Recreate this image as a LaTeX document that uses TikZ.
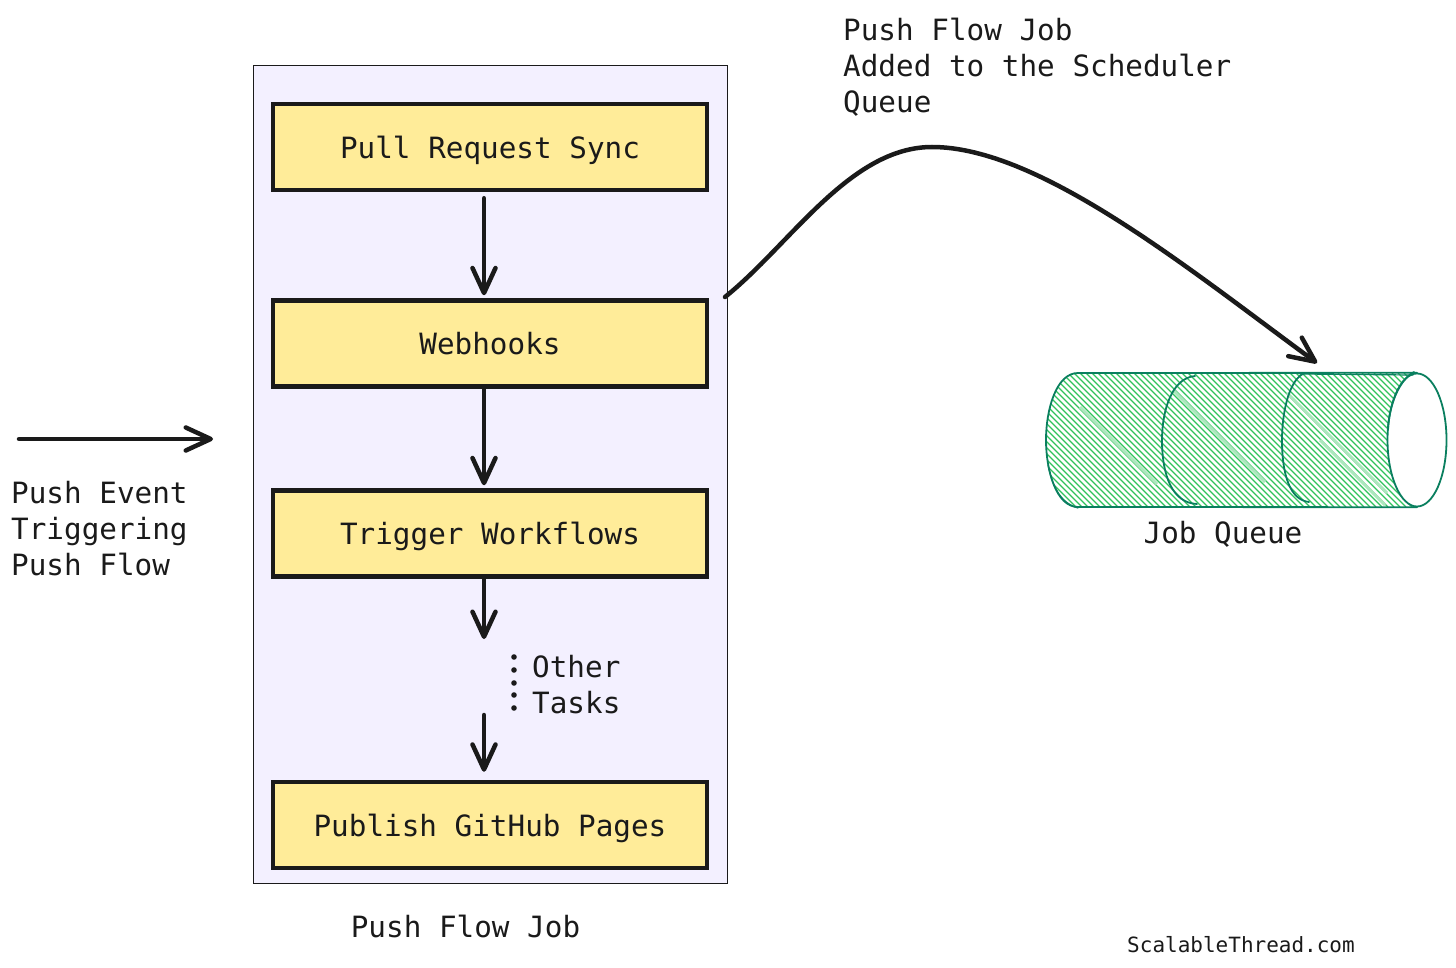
\documentclass[tikz,border=0pt]{standalone}
\usepackage{fontspec}
\setmainfont{DejaVu Sans Mono}
\usetikzlibrary{arrows.meta}
\definecolor{inkc}{HTML}{1A1A1A}
\definecolor{yellowfill}{HTML}{FFEC99}
\definecolor{lilac}{HTML}{F3F0FF}
\definecolor{greenline}{HTML}{0A7F5F}
\definecolor{greenhatch}{HTML}{2FC25B}
\tikzset{
  x=1pt,y=-1pt,
  taskbox/.style={draw=inkc,fill=yellowfill,line width=4.5pt,minimum width=434pt,minimum height=86pt,inner sep=0pt,text height=22.5pt,text depth=0pt,font=\fontsize{29.3}{36}\selectfont,text=inkc},
  txt/.style={inner sep=0pt,align=left,font=\fontsize{29.3}{36}\selectfont,text=inkc},
  conn/.style={draw=inkc,line width=4.5pt,line cap=round,-{Straight Barb[length=25pt,width=23pt,line width=4.5pt,round]}},
  cylline/.style={draw=greenline,line width=1.8pt,line cap=round},
  hatchline/.style={draw=greenhatch,line width=1.2pt},
  hatchband/.style={draw=greenhatch!40,line width=3pt},
}
\begin{document}
\begin{tikzpicture}
\useasboundingbox (0,0) rectangle (1456,968);
% container
\node[draw=inkc,fill=lilac,line width=1pt,minimum width=474pt,minimum height=817pt,inner sep=0pt] (outer) at (490,474.5) {};
% tasks
\node[taskbox] (pull) at (490,147) {Pull Request Sync};
\node[taskbox] (hook) at (490,343.5) {Webhooks};
\node[taskbox] (trig) at (490,533.5) {Trigger Workflows};
\node[taskbox] (pub) at (490,825) {Publish GitHub Pages};
% arrows
\draw[conn] ([xshift=-6pt,yshift=-6pt]pull.south) -- ([xshift=-6pt,yshift=3pt]hook.north);
\draw[conn] ([xshift=-6pt]hook.south) -- ([xshift=-6pt,yshift=3pt]trig.north);
\coordinate (gapa) at (484,639);
\coordinate (gapb) at (484,715);
\draw[conn] ([xshift=-6pt]trig.south) -- (gapa);
\draw[conn] (gapb) -- ([xshift=-6pt,yshift=8pt]pub.north);
% dots
\foreach \yy in {657,670,683,695,708} \fill[inkc] (514,\yy) circle (2.8pt);
\node[txt,anchor=west] (other) at (532,685) {Other\\Tasks};
% labels
\node[txt,anchor=center] (jobl) at (465.5,926) {Push Flow Job};
\node[txt,anchor=west] (sched) at (843,67) {Push Flow Job\\Added to the Scheduler\\Queue};
\node[txt,anchor=west] (event) at (11,529) {Push Event\\Triggering\\Push Flow};
\node[txt,anchor=center] (jobq) at (1223,534) {Job Queue};
\node[inner sep=0pt,font=\fontsize{21}{24}\selectfont,text=inkc] (mark) at (1241,945) {ScalableThread.com};
% incoming arrow
\coordinate (evs) at (19,439);
\coordinate (eve) at (213,439);
\draw[conn] (evs) -- (eve);
% cylinder
\begin{scope}
\clip (1078,373) -- (1417,373) -- (1417,507) -- (1078,507) .. controls (1056,507) and (1046,470) .. (1046,440) .. controls (1046,410) and (1056,373) .. (1078,373) -- cycle;
\foreach \xx in {900,906,...,1450} \draw[hatchline] (\xx,373) -- (\xx+134,507);
\draw[hatchband] (1080,407) -- (1157,484);
\draw[hatchband] (1173,390) -- (1265,482);
\draw[hatchband] (1287,393) -- (1387,493);
\draw[hatchband] (1320,440) -- (1385,505);
\end{scope}
\node[minimum width=60pt,minimum height=134pt,inner sep=0pt] (cap) at (1417,440) {};
\fill[white] (cap.center) ellipse (30pt and 67pt);
\draw[cylline] (cap.center) ellipse (29.5pt and 66.5pt);
\draw[cylline] (1388,430) .. controls (1389,405) and (1399,380) .. (1414,372);
\draw[cylline] (cap.north) -- (1078,373) .. controls (1056,373) and (1046,410) .. (1046,440) .. controls (1046,470) and (1056,507) .. (1078,507) -- (cap.south);
\draw[cylline,line width=1.2pt] (1413,375) -- (1300,374);
\draw[cylline,line width=1.2pt] (1048,465) .. controls (1052,485) and (1060,503) .. (1078,508);
\draw[cylline] (1195,376) .. controls (1172,378) and (1162,410) .. (1162,440) .. controls (1162,475) and (1172,503) .. (1197,504);
\draw[cylline] (1305,373) .. controls (1290,378) and (1282,410) .. (1282,440) .. controls (1282,475) and (1290,500) .. (1309,502);
\coordinate (qtop) at (1317,363);
\coordinate (flowstart) at (725,297);
\draw[conn] (flowstart) .. controls (790,245) and (850,147) .. (932,147) .. controls (1040,147) and (1190,270) .. (qtop);
\end{tikzpicture}
\end{document}
